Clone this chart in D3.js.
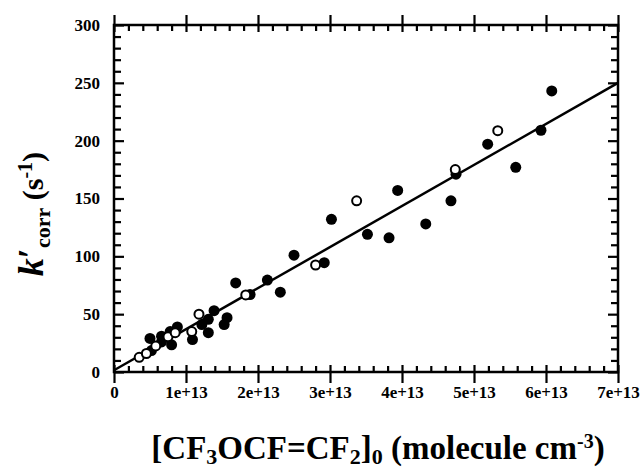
<!DOCTYPE html>
<html>
<head>
<meta charset="utf-8">
<script src="https://cdn.jsdelivr.net/npm/d3@7"></script>
<style>
  body { margin: 0; background: #fff; }
  svg text { font-family: "Liberation Serif", "Times New Roman", serif; font-weight: bold; fill: #000; }
</style>
</head>
<body>
<svg id="chart" width="642" height="475"></svg>
<script>
// data (x in molecule cm^-3, y in s^-1)
const filledX = [0.50e13, 0.52e13, 0.66e13, 0.66e13, 0.78e13, 0.80e13, 0.88e13, 1.09e13, 1.22e13, 1.31e13, 1.31e13,
  1.39e13, 1.53e13, 1.57e13, 1.69e13, 1.89e13, 2.13e13, 2.31e13, 2.50e13, 2.92e13, 3.02e13, 3.52e13,
  3.82e13, 3.94e13, 4.33e13, 4.68e13, 4.75e13, 5.19e13, 5.58e13, 5.93e13, 6.08e13];
const filledY = [29, 18.5, 31, 26, 35, 23.5, 39, 28, 41, 34, 45.5,
  53, 41, 47, 77, 67, 79.5, 69, 101, 94.5, 132, 119,
  116, 157, 128, 148, 171, 197, 177, 209, 243];
const openX = [0.35e13, 0.45e13, 0.58e13, 0.75e13, 0.85e13, 1.08e13, 1.18e13, 1.83e13, 2.80e13, 3.37e13, 4.74e13, 5.33e13];
const openY = [12.7, 16, 22.5, 30.5, 34, 35, 50, 66.6, 92.5, 148, 175, 208.6];
const fitX = [0, 7e13];
const fitY = [1.5, 250];
const xTicks = [0, 1e13, 2e13, 3e13, 4e13, 5e13, 6e13, 7e13];
const yTicks = [0, 50, 100, 150, 200, 250, 300];

const margin = {left: 114, right: 24, top: 25, bottom: 103},
  W = 642, H = 475,
  w = W - margin.left - margin.right,
  h = H - margin.top - margin.bottom;

const svg = d3.select("#chart");
const g = svg.append("g").attr("transform", `translate(${margin.left},${margin.top})`);

const x = d3.scaleLinear().domain([0, 7e13]).range([0, w]);
const y = d3.scaleLinear().domain([0, 300]).range([h, 0]);

const xMinor = d3.range(0, 7e13 + 1, 2e12).filter(v => v % 1e13 !== 0);
const yMinor = d3.range(0, 301, 10).filter(v => v % 50 !== 0);

function styleAxis(sel) {
  sel.select(".domain").remove();
  sel.selectAll("line").attr("stroke", "#000").attr("stroke-width", 2.2);
}

// frame
g.append("rect")
  .attr("width", w).attr("height", h)
  .attr("fill", "none").attr("stroke", "#000").attr("stroke-width", 2.5);

// bottom axis: major ticks cross the frame, labels below
g.append("g").attr("transform", `translate(0,${h})`)
  .call(d3.axisBottom(x).tickValues(xTicks).tickSize(11).tickPadding(3)
    .tickFormat(d => d === 0 ? "0" : (d / 1e13) + "e+13"))
  .call(styleAxis)
  .selectAll("text").attr("font-size", 17).attr("font-family", "Liberation Serif").attr("font-weight", "bold");
g.append("g").attr("transform", `translate(0,${h})`)
  .call(d3.axisBottom(x).tickValues(xTicks).tickSize(-7).tickFormat(""))
  .call(styleAxis);
g.append("g").attr("transform", `translate(0,${h})`)
  .call(d3.axisBottom(x).tickValues(xMinor).tickSize(-6).tickFormat(""))
  .call(styleAxis);

// top axis
g.append("g")
  .call(d3.axisTop(x).tickValues(xTicks).tickSize(10).tickFormat(""))
  .call(styleAxis);
g.append("g")
  .call(d3.axisTop(x).tickValues(xTicks).tickSize(-7).tickFormat(""))
  .call(styleAxis);
g.append("g")
  .call(d3.axisTop(x).tickValues(xMinor).tickSize(-6).tickFormat(""))
  .call(styleAxis);

// left axis: ticks inward, labels outside
g.append("g")
  .call(d3.axisLeft(y).tickValues(yTicks).tickSize(-10).tickPadding(14))
  .call(styleAxis)
  .selectAll("text").attr("font-size", 17).attr("font-family", "Liberation Serif").attr("font-weight", "bold");
g.append("g")
  .call(d3.axisLeft(y).tickValues(yMinor).tickSize(-7).tickFormat(""))
  .call(styleAxis);

// right axis
g.append("g").attr("transform", `translate(${w},0)`)
  .call(d3.axisRight(y).tickValues(yTicks).tickSize(-10).tickFormat(""))
  .call(styleAxis);
g.append("g").attr("transform", `translate(${w},0)`)
  .call(d3.axisRight(y).tickValues(yMinor).tickSize(-7).tickFormat(""))
  .call(styleAxis);

// fit line
const line = d3.line().x(d => x(d[0])).y(d => y(d[1]));
g.append("path")
  .datum(d3.zip(fitX, fitY))
  .attr("d", line)
  .attr("fill", "none").attr("stroke", "#000").attr("stroke-width", 2.5);

// filled circles
g.selectAll("circle.filled")
  .data(d3.zip(filledX, filledY)).enter()
  .append("circle").attr("class", "filled")
  .attr("cx", d => x(d[0])).attr("cy", d => y(d[1]))
  .attr("r", 5.5).attr("fill", "#000");

// open circles
g.selectAll("circle.open")
  .data(d3.zip(openX, openY)).enter()
  .append("circle").attr("class", "open")
  .attr("cx", d => x(d[0])).attr("cy", d => y(d[1]))
  .attr("r", 4.5).attr("fill", "#fff").attr("stroke", "#000").attr("stroke-width", 2);

// x axis title
const xt = svg.append("text")
  .attr("x", 378).attr("y", 459)
  .attr("text-anchor", "middle").attr("font-size", 33);
xt.append("tspan").text("[CF");
xt.append("tspan").attr("font-size", 22).attr("baseline-shift", "-22%").text("3");
xt.append("tspan").text("OCF=CF");
xt.append("tspan").attr("font-size", 22).attr("baseline-shift", "-22%").text("2");
xt.append("tspan").text("]");
xt.append("tspan").attr("font-size", 22).attr("baseline-shift", "-22%").text("0");
xt.append("tspan").text(" (molecule cm");
xt.append("tspan").attr("font-size", 20).attr("baseline-shift", "55%").text("-3");
xt.append("tspan").text(")");

// y axis title
const yt = svg.append("text")
  .attr("transform", "translate(43,214) rotate(-90)")
  .attr("text-anchor", "middle").attr("font-size", 30);
yt.append("tspan").attr("font-style", "italic").attr("font-size", 36).text("k");
yt.append("tspan").attr("font-size", 36).text("′");
yt.append("tspan").attr("font-size", 22).attr("baseline-shift", "-30%").text("corr");
yt.append("tspan").text(" (s");
yt.append("tspan").attr("font-size", 20).attr("baseline-shift", "55%").text("-1");
yt.append("tspan").text(")");
</script>
</body>
</html>
